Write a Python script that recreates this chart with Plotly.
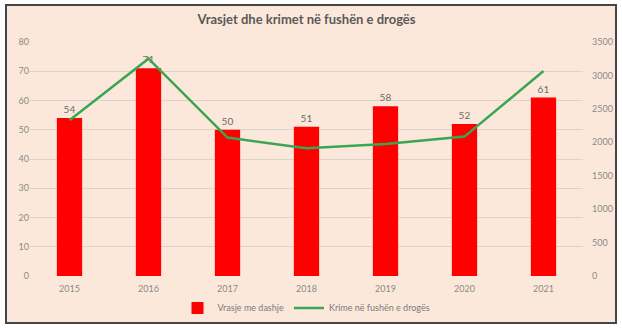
import plotly.graph_objects as go

years = ["2015", "2016", "2017", "2018", "2019", "2020", "2021"]
murders = [54, 71, 50, 51, 58, 52, 61]
drug_crimes = [2330, 3250, 2070, 1910, 1975, 2085, 3065]

left_ticks = list(range(0, 81, 10))
right_ticks = list(range(0, 3501, 500))

tick_font = dict(family="Lato, Open Sans, sans-serif", size=9, color="#8a8a8a")

fig = go.Figure()
fig.add_trace(go.Bar(
    x=years, y=murders, name="Vrasje me dashje",
    marker=dict(color="#ff0000", line=dict(width=0)),
    text=[str(v) for v in murders], textposition="outside",
    textfont=dict(family="Lato, Open Sans, sans-serif", size=10, color="#6b6b6b"),
    cliponaxis=False, yaxis="y",
))
fig.add_trace(go.Scatter(
    x=years, y=drug_crimes, name="Krime në fushën e drogës",
    mode="lines", line=dict(color="#3aa655", width=2.5), yaxis="y2",
))

# framed peach panel behind the whole chart
fig.add_shape(type="rect", xref="paper", yref="paper",
              x0=-0.0434, x1=1.0597, y0=-0.201, y1=1.158,
              fillcolor="#fce8da", line=dict(color="#454545", width=2),
              layer="below")

fig.update_layout(
    width=622, height=330,
    margin=dict(l=30, r=39, t=42, b=54, autoexpand=False),
    paper_bgcolor="white", plot_bgcolor="rgba(0,0,0,0)",
    bargap=0.68,
    title=dict(text="<b>Vrasjet dhe krimet në fushën e drogës</b>",
               x=0.5, xanchor="center", xref="paper", y=0.94, yanchor="middle",
               font=dict(family="Lato, Open Sans, sans-serif", size=13, color="#595959")),
    xaxis=dict(type="category", showgrid=False, showline=False, ticks="",
               tickfont=tick_font, automargin=False, ticklabelstandoff=6),
    yaxis=dict(range=[0, 80], tickvals=left_ticks, showgrid=True,
               gridcolor="#dcd3cc", gridwidth=1, zeroline=False, showline=False,
               ticks="", tickfont=tick_font, automargin=False),
    yaxis2=dict(range=[0, 3500], tickvals=right_ticks, overlaying="y", side="right",
                showgrid=False, zeroline=False, showline=False, ticks="",
                tickfont=tick_font, automargin=False, ticklabelstandoff=8),
    legend=dict(orientation="h", x=0.5, xanchor="center",
                yref="container", y=0.067, yanchor="middle",
                bgcolor="rgba(0,0,0,0)",
                font=dict(family="Lato, Open Sans, sans-serif", size=9, color="#7a7a7a")),
    showlegend=True,
)

fig.write_html("out.html")
